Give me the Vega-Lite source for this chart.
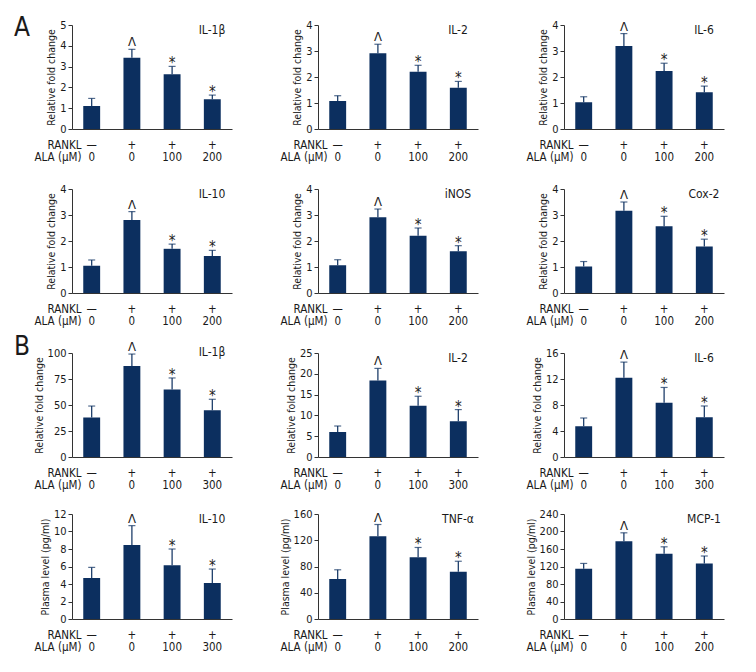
{
"$schema": "https://vega.github.io/schema/vega-lite/v6.json",
"padding": {"left": 13, "top": 15, "right": 5, "bottom": 5},
"config": {
  "font": "Liberation Sans Narrow, DejaVu Sans Condensed, sans-serif",
  "view": {"stroke": null},
  "axis": {"domainColor": "#333", "tickColor": "#333", "labelColor": "#1a1a1a", "titleColor": "#1a1a1a", "titleFontWeight": "normal", "labelFontSize": 11, "titleFontSize": 10.5, "grid": false},
  "axisX": {"labelAngle": 0, "ticks": false, "labelPadding": 10, "labelLineHeight": 12, "titleLineHeight": 12, "titleAlign": "right", "titleX": 9, "titleY": 10, "titleBaseline": "top", "labelFontSize": 11.5, "titleFontSize": 11.5, "labelBaseline": "top"},
  "axisY": {"tickSize": 4, "labelPadding": 2, "titlePadding": 3, "labelOverlap": false, "labelBound": false, "labelFlush": false},
  "bar": {"color": "#0c2f5f"},
  "text": {"color": "#222"},
  "title": {"fontWeight": "normal", "color": "#1a1a1a"}
},
"spacing": 7,
"vconcat": [
{
  "title": {"text": "A", "anchor": "start", "frame": "bounds", "fontSize": 26, "baseline": "top", "offset": -22, "dx": -20},
  "columns": 3,
  "bounds": "flush",
  "spacing": {"row": 60, "column": 86},
  "concat": [
  {"width": 160, "height": 104,
   "title": {"text": "IL-1β", "anchor": "end", "align": "center", "dx": -20, "baseline": "top", "offset": -18, "fontSize": 12, "frame": "group"},
   "data": {"values": [
     {"cond": "—|0", "value": 1.1, "upper": 1.47, "sig": ""},
     {"cond": "+|0", "value": 3.43, "upper": 3.83, "sig": "Λ"},
     {"cond": "+|100", "value": 2.63, "upper": 3.01, "sig": "*"},
     {"cond": "+|200", "value": 1.43, "upper": 1.63, "sig": "*"}]},
   "encoding": {"x": {"field": "cond", "type": "nominal", "sort": null, "scale": {"paddingInner": 0.58, "paddingOuter": 0.28}, "axis": {"title": ["RANKL", "ALA (μM)"], "labelExpr": "split(datum.label, '|')"}}},
   "layer": [
     {"mark": {"type": "bar"}, "encoding": {"y": {"field": "value", "type": "quantitative", "title": "Relative fold change", "scale": {"domain": [0, 5], "nice": false}, "axis": {"values": [0, 1, 2, 3, 4, 5]}}}},
     {"mark": {"type": "rule", "color": "#0c2f5f", "strokeWidth": 1.2}, "encoding": {"y": {"field": "value", "type": "quantitative", "title": "Relative fold change", "axis": {"values": [0, 1, 2, 3, 4, 5]}}, "y2": {"field": "upper"}}},
     {"mark": {"type": "tick", "color": "#0c2f5f", "thickness": 1.2, "size": 7}, "encoding": {"y": {"field": "upper", "type": "quantitative", "title": "Relative fold change", "axis": {"values": [0, 1, 2, 3, 4, 5]}}}},
     {"transform": [{"filter": "datum.sig == 'Λ'"}], "mark": {"type": "text", "baseline": "alphabetic", "dy": -3, "fontSize": 13}, "encoding": {"y": {"field": "upper", "type": "quantitative", "title": "Relative fold change", "axis": {"values": [0, 1, 2, 3, 4, 5]}}, "text": {"field": "sig"}}},
     {"transform": [{"filter": "datum.sig == '*'"}], "mark": {"type": "text", "baseline": "alphabetic", "dy": 2, "fontSize": 15}, "encoding": {"y": {"field": "upper", "type": "quantitative", "title": "Relative fold change", "axis": {"values": [0, 1, 2, 3, 4, 5]}}, "text": {"field": "sig"}}}
   ]},
  {"width": 160, "height": 104,
   "title": {"text": "IL-2", "anchor": "end", "align": "center", "dx": -20, "baseline": "top", "offset": -18, "fontSize": 12, "frame": "group"},
   "data": {"values": [
     {"cond": "—|0", "value": 1.08, "upper": 1.28, "sig": ""},
     {"cond": "+|0", "value": 2.91, "upper": 3.26, "sig": "Λ"},
     {"cond": "+|100", "value": 2.2, "upper": 2.45, "sig": "*"},
     {"cond": "+|200", "value": 1.59, "upper": 1.83, "sig": "*"}]},
   "encoding": {"x": {"field": "cond", "type": "nominal", "sort": null, "scale": {"paddingInner": 0.58, "paddingOuter": 0.28}, "axis": {"title": ["RANKL", "ALA (μM)"], "labelExpr": "split(datum.label, '|')"}}},
   "layer": [
     {"mark": {"type": "bar"}, "encoding": {"y": {"field": "value", "type": "quantitative", "title": "Relative fold change", "scale": {"domain": [0, 4], "nice": false}, "axis": {"values": [0, 1, 2, 3, 4]}}}},
     {"mark": {"type": "rule", "color": "#0c2f5f", "strokeWidth": 1.2}, "encoding": {"y": {"field": "value", "type": "quantitative", "title": "Relative fold change", "axis": {"values": [0, 1, 2, 3, 4]}}, "y2": {"field": "upper"}}},
     {"mark": {"type": "tick", "color": "#0c2f5f", "thickness": 1.2, "size": 7}, "encoding": {"y": {"field": "upper", "type": "quantitative", "title": "Relative fold change", "axis": {"values": [0, 1, 2, 3, 4]}}}},
     {"transform": [{"filter": "datum.sig == 'Λ'"}], "mark": {"type": "text", "baseline": "alphabetic", "dy": -3, "fontSize": 13}, "encoding": {"y": {"field": "upper", "type": "quantitative", "title": "Relative fold change", "axis": {"values": [0, 1, 2, 3, 4]}}, "text": {"field": "sig"}}},
     {"transform": [{"filter": "datum.sig == '*'"}], "mark": {"type": "text", "baseline": "alphabetic", "dy": 2, "fontSize": 15}, "encoding": {"y": {"field": "upper", "type": "quantitative", "title": "Relative fold change", "axis": {"values": [0, 1, 2, 3, 4]}}, "text": {"field": "sig"}}}
   ]},
  {"width": 160, "height": 104,
   "title": {"text": "IL-6", "anchor": "end", "align": "center", "dx": -20, "baseline": "top", "offset": -18, "fontSize": 12, "frame": "group"},
   "data": {"values": [
     {"cond": "—|0", "value": 1.03, "upper": 1.24, "sig": ""},
     {"cond": "+|0", "value": 3.19, "upper": 3.67, "sig": "Λ"},
     {"cond": "+|100", "value": 2.23, "upper": 2.53, "sig": "*"},
     {"cond": "+|200", "value": 1.41, "upper": 1.65, "sig": "*"}]},
   "encoding": {"x": {"field": "cond", "type": "nominal", "sort": null, "scale": {"paddingInner": 0.58, "paddingOuter": 0.28}, "axis": {"title": ["RANKL", "ALA (μM)"], "labelExpr": "split(datum.label, '|')"}}},
   "layer": [
     {"mark": {"type": "bar"}, "encoding": {"y": {"field": "value", "type": "quantitative", "title": "Relative fold change", "scale": {"domain": [0, 4], "nice": false}, "axis": {"values": [0, 1, 2, 3, 4]}}}},
     {"mark": {"type": "rule", "color": "#0c2f5f", "strokeWidth": 1.2}, "encoding": {"y": {"field": "value", "type": "quantitative", "title": "Relative fold change", "axis": {"values": [0, 1, 2, 3, 4]}}, "y2": {"field": "upper"}}},
     {"mark": {"type": "tick", "color": "#0c2f5f", "thickness": 1.2, "size": 7}, "encoding": {"y": {"field": "upper", "type": "quantitative", "title": "Relative fold change", "axis": {"values": [0, 1, 2, 3, 4]}}}},
     {"transform": [{"filter": "datum.sig == 'Λ'"}], "mark": {"type": "text", "baseline": "alphabetic", "dy": -3, "fontSize": 13}, "encoding": {"y": {"field": "upper", "type": "quantitative", "title": "Relative fold change", "axis": {"values": [0, 1, 2, 3, 4]}}, "text": {"field": "sig"}}},
     {"transform": [{"filter": "datum.sig == '*'"}], "mark": {"type": "text", "baseline": "alphabetic", "dy": 2, "fontSize": 15}, "encoding": {"y": {"field": "upper", "type": "quantitative", "title": "Relative fold change", "axis": {"values": [0, 1, 2, 3, 4]}}, "text": {"field": "sig"}}}
   ]},
  {"width": 160, "height": 104,
   "title": {"text": "IL-10", "anchor": "end", "align": "center", "dx": -20, "baseline": "top", "offset": -18, "fontSize": 12, "frame": "group"},
   "data": {"values": [
     {"cond": "—|0", "value": 1.05, "upper": 1.27, "sig": ""},
     {"cond": "+|0", "value": 2.81, "upper": 3.13, "sig": "Λ"},
     {"cond": "+|100", "value": 1.7, "upper": 1.88, "sig": "*"},
     {"cond": "+|200", "value": 1.42, "upper": 1.64, "sig": "*"}]},
   "encoding": {"x": {"field": "cond", "type": "nominal", "sort": null, "scale": {"paddingInner": 0.58, "paddingOuter": 0.28}, "axis": {"title": ["RANKL", "ALA (μM)"], "labelExpr": "split(datum.label, '|')"}}},
   "layer": [
     {"mark": {"type": "bar"}, "encoding": {"y": {"field": "value", "type": "quantitative", "title": "Relative fold change", "scale": {"domain": [0, 4], "nice": false}, "axis": {"values": [0, 1, 2, 3, 4]}}}},
     {"mark": {"type": "rule", "color": "#0c2f5f", "strokeWidth": 1.2}, "encoding": {"y": {"field": "value", "type": "quantitative", "title": "Relative fold change", "axis": {"values": [0, 1, 2, 3, 4]}}, "y2": {"field": "upper"}}},
     {"mark": {"type": "tick", "color": "#0c2f5f", "thickness": 1.2, "size": 7}, "encoding": {"y": {"field": "upper", "type": "quantitative", "title": "Relative fold change", "axis": {"values": [0, 1, 2, 3, 4]}}}},
     {"transform": [{"filter": "datum.sig == 'Λ'"}], "mark": {"type": "text", "baseline": "alphabetic", "dy": -3, "fontSize": 13}, "encoding": {"y": {"field": "upper", "type": "quantitative", "title": "Relative fold change", "axis": {"values": [0, 1, 2, 3, 4]}}, "text": {"field": "sig"}}},
     {"transform": [{"filter": "datum.sig == '*'"}], "mark": {"type": "text", "baseline": "alphabetic", "dy": 2, "fontSize": 15}, "encoding": {"y": {"field": "upper", "type": "quantitative", "title": "Relative fold change", "axis": {"values": [0, 1, 2, 3, 4]}}, "text": {"field": "sig"}}}
   ]},
  {"width": 160, "height": 104,
   "title": {"text": "iNOS", "anchor": "end", "align": "center", "dx": -20, "baseline": "top", "offset": -18, "fontSize": 12, "frame": "group"},
   "data": {"values": [
     {"cond": "—|0", "value": 1.07, "upper": 1.28, "sig": ""},
     {"cond": "+|0", "value": 2.91, "upper": 3.23, "sig": "Λ"},
     {"cond": "+|100", "value": 2.2, "upper": 2.5, "sig": "*"},
     {"cond": "+|200", "value": 1.61, "upper": 1.82, "sig": "*"}]},
   "encoding": {"x": {"field": "cond", "type": "nominal", "sort": null, "scale": {"paddingInner": 0.58, "paddingOuter": 0.28}, "axis": {"title": ["RANKL", "ALA (μM)"], "labelExpr": "split(datum.label, '|')"}}},
   "layer": [
     {"mark": {"type": "bar"}, "encoding": {"y": {"field": "value", "type": "quantitative", "title": "Relative fold change", "scale": {"domain": [0, 4], "nice": false}, "axis": {"values": [0, 1, 2, 3, 4]}}}},
     {"mark": {"type": "rule", "color": "#0c2f5f", "strokeWidth": 1.2}, "encoding": {"y": {"field": "value", "type": "quantitative", "title": "Relative fold change", "axis": {"values": [0, 1, 2, 3, 4]}}, "y2": {"field": "upper"}}},
     {"mark": {"type": "tick", "color": "#0c2f5f", "thickness": 1.2, "size": 7}, "encoding": {"y": {"field": "upper", "type": "quantitative", "title": "Relative fold change", "axis": {"values": [0, 1, 2, 3, 4]}}}},
     {"transform": [{"filter": "datum.sig == 'Λ'"}], "mark": {"type": "text", "baseline": "alphabetic", "dy": -3, "fontSize": 13}, "encoding": {"y": {"field": "upper", "type": "quantitative", "title": "Relative fold change", "axis": {"values": [0, 1, 2, 3, 4]}}, "text": {"field": "sig"}}},
     {"transform": [{"filter": "datum.sig == '*'"}], "mark": {"type": "text", "baseline": "alphabetic", "dy": 2, "fontSize": 15}, "encoding": {"y": {"field": "upper", "type": "quantitative", "title": "Relative fold change", "axis": {"values": [0, 1, 2, 3, 4]}}, "text": {"field": "sig"}}}
   ]},
  {"width": 160, "height": 104,
   "title": {"text": "Cox-2", "anchor": "end", "align": "center", "dx": -20, "baseline": "top", "offset": -18, "fontSize": 12, "frame": "group"},
   "data": {"values": [
     {"cond": "—|0", "value": 1.02, "upper": 1.21, "sig": ""},
     {"cond": "+|0", "value": 3.16, "upper": 3.5, "sig": "Λ"},
     {"cond": "+|100", "value": 2.57, "upper": 2.95, "sig": "*"},
     {"cond": "+|200", "value": 1.79, "upper": 2.07, "sig": "*"}]},
   "encoding": {"x": {"field": "cond", "type": "nominal", "sort": null, "scale": {"paddingInner": 0.58, "paddingOuter": 0.28}, "axis": {"title": ["RANKL", "ALA (μM)"], "labelExpr": "split(datum.label, '|')"}}},
   "layer": [
     {"mark": {"type": "bar"}, "encoding": {"y": {"field": "value", "type": "quantitative", "title": "Relative fold change", "scale": {"domain": [0, 4], "nice": false}, "axis": {"values": [0, 1, 2, 3, 4]}}}},
     {"mark": {"type": "rule", "color": "#0c2f5f", "strokeWidth": 1.2}, "encoding": {"y": {"field": "value", "type": "quantitative", "title": "Relative fold change", "axis": {"values": [0, 1, 2, 3, 4]}}, "y2": {"field": "upper"}}},
     {"mark": {"type": "tick", "color": "#0c2f5f", "thickness": 1.2, "size": 7}, "encoding": {"y": {"field": "upper", "type": "quantitative", "title": "Relative fold change", "axis": {"values": [0, 1, 2, 3, 4]}}}},
     {"transform": [{"filter": "datum.sig == 'Λ'"}], "mark": {"type": "text", "baseline": "alphabetic", "dy": -3, "fontSize": 13}, "encoding": {"y": {"field": "upper", "type": "quantitative", "title": "Relative fold change", "axis": {"values": [0, 1, 2, 3, 4]}}, "text": {"field": "sig"}}},
     {"transform": [{"filter": "datum.sig == '*'"}], "mark": {"type": "text", "baseline": "alphabetic", "dy": 2, "fontSize": 15}, "encoding": {"y": {"field": "upper", "type": "quantitative", "title": "Relative fold change", "axis": {"values": [0, 1, 2, 3, 4]}}, "text": {"field": "sig"}}}
   ]}
  ]
},
{
  "title": {"text": "B", "anchor": "start", "frame": "bounds", "fontSize": 26, "baseline": "top", "offset": -19, "dx": -20},
  "columns": 3,
  "bounds": "flush",
  "spacing": {"row": 57, "column": 86},
  "concat": [
  {"width": 160, "height": 104,
   "title": {"text": "IL-1β", "anchor": "end", "align": "center", "dx": -20, "baseline": "top", "offset": -18, "fontSize": 12, "frame": "group"},
   "data": {"values": [
     {"cond": "—|0", "value": 38, "upper": 49, "sig": ""},
     {"cond": "+|0", "value": 87.5, "upper": 99, "sig": "Λ"},
     {"cond": "+|100", "value": 65, "upper": 76, "sig": "*"},
     {"cond": "+|300", "value": 45, "upper": 55.5, "sig": "*"}]},
   "encoding": {"x": {"field": "cond", "type": "nominal", "sort": null, "scale": {"paddingInner": 0.58, "paddingOuter": 0.28}, "axis": {"title": ["RANKL", "ALA (μM)"], "labelExpr": "split(datum.label, '|')"}}},
   "layer": [
     {"mark": {"type": "bar"}, "encoding": {"y": {"field": "value", "type": "quantitative", "title": "Relative fold change", "scale": {"domain": [0, 100], "nice": false}, "axis": {"values": [0, 25, 50, 75, 100]}}}},
     {"mark": {"type": "rule", "color": "#0c2f5f", "strokeWidth": 1.2}, "encoding": {"y": {"field": "value", "type": "quantitative", "title": "Relative fold change", "axis": {"values": [0, 25, 50, 75, 100]}}, "y2": {"field": "upper"}}},
     {"mark": {"type": "tick", "color": "#0c2f5f", "thickness": 1.2, "size": 7}, "encoding": {"y": {"field": "upper", "type": "quantitative", "title": "Relative fold change", "axis": {"values": [0, 25, 50, 75, 100]}}}},
     {"transform": [{"filter": "datum.sig == 'Λ'"}], "mark": {"type": "text", "baseline": "alphabetic", "dy": -3, "fontSize": 13}, "encoding": {"y": {"field": "upper", "type": "quantitative", "title": "Relative fold change", "axis": {"values": [0, 25, 50, 75, 100]}}, "text": {"field": "sig"}}},
     {"transform": [{"filter": "datum.sig == '*'"}], "mark": {"type": "text", "baseline": "alphabetic", "dy": 2, "fontSize": 15}, "encoding": {"y": {"field": "upper", "type": "quantitative", "title": "Relative fold change", "axis": {"values": [0, 25, 50, 75, 100]}}, "text": {"field": "sig"}}}
   ]},
  {"width": 160, "height": 104,
   "title": {"text": "IL-2", "anchor": "end", "align": "center", "dx": -20, "baseline": "top", "offset": -18, "fontSize": 12, "frame": "group"},
   "data": {"values": [
     {"cond": "—|0", "value": 6.0, "upper": 7.45, "sig": ""},
     {"cond": "+|0", "value": 18.4, "upper": 21.3, "sig": "Λ"},
     {"cond": "+|100", "value": 12.3, "upper": 14.6, "sig": "*"},
     {"cond": "+|300", "value": 8.6, "upper": 11.4, "sig": "*"}]},
   "encoding": {"x": {"field": "cond", "type": "nominal", "sort": null, "scale": {"paddingInner": 0.58, "paddingOuter": 0.28}, "axis": {"title": ["RANKL", "ALA (μM)"], "labelExpr": "split(datum.label, '|')"}}},
   "layer": [
     {"mark": {"type": "bar"}, "encoding": {"y": {"field": "value", "type": "quantitative", "title": "Relative fold change", "scale": {"domain": [0, 25], "nice": false}, "axis": {"values": [0, 5, 10, 15, 20, 25]}}}},
     {"mark": {"type": "rule", "color": "#0c2f5f", "strokeWidth": 1.2}, "encoding": {"y": {"field": "value", "type": "quantitative", "title": "Relative fold change", "axis": {"values": [0, 5, 10, 15, 20, 25]}}, "y2": {"field": "upper"}}},
     {"mark": {"type": "tick", "color": "#0c2f5f", "thickness": 1.2, "size": 7}, "encoding": {"y": {"field": "upper", "type": "quantitative", "title": "Relative fold change", "axis": {"values": [0, 5, 10, 15, 20, 25]}}}},
     {"transform": [{"filter": "datum.sig == 'Λ'"}], "mark": {"type": "text", "baseline": "alphabetic", "dy": -3, "fontSize": 13}, "encoding": {"y": {"field": "upper", "type": "quantitative", "title": "Relative fold change", "axis": {"values": [0, 5, 10, 15, 20, 25]}}, "text": {"field": "sig"}}},
     {"transform": [{"filter": "datum.sig == '*'"}], "mark": {"type": "text", "baseline": "alphabetic", "dy": 2, "fontSize": 15}, "encoding": {"y": {"field": "upper", "type": "quantitative", "title": "Relative fold change", "axis": {"values": [0, 5, 10, 15, 20, 25]}}, "text": {"field": "sig"}}}
   ]},
  {"width": 160, "height": 104,
   "title": {"text": "IL-6", "anchor": "end", "align": "center", "dx": -20, "baseline": "top", "offset": -18, "fontSize": 12, "frame": "group"},
   "data": {"values": [
     {"cond": "—|0", "value": 4.75, "upper": 6.0, "sig": ""},
     {"cond": "+|0", "value": 12.2, "upper": 14.6, "sig": "Λ"},
     {"cond": "+|100", "value": 8.35, "upper": 10.7, "sig": "*"},
     {"cond": "+|300", "value": 6.1, "upper": 7.85, "sig": "*"}]},
   "encoding": {"x": {"field": "cond", "type": "nominal", "sort": null, "scale": {"paddingInner": 0.58, "paddingOuter": 0.28}, "axis": {"title": ["RANKL", "ALA (μM)"], "labelExpr": "split(datum.label, '|')"}}},
   "layer": [
     {"mark": {"type": "bar"}, "encoding": {"y": {"field": "value", "type": "quantitative", "title": "Relative fold change", "scale": {"domain": [0, 16], "nice": false}, "axis": {"values": [0, 4, 8, 12, 16]}}}},
     {"mark": {"type": "rule", "color": "#0c2f5f", "strokeWidth": 1.2}, "encoding": {"y": {"field": "value", "type": "quantitative", "title": "Relative fold change", "axis": {"values": [0, 4, 8, 12, 16]}}, "y2": {"field": "upper"}}},
     {"mark": {"type": "tick", "color": "#0c2f5f", "thickness": 1.2, "size": 7}, "encoding": {"y": {"field": "upper", "type": "quantitative", "title": "Relative fold change", "axis": {"values": [0, 4, 8, 12, 16]}}}},
     {"transform": [{"filter": "datum.sig == 'Λ'"}], "mark": {"type": "text", "baseline": "alphabetic", "dy": -3, "fontSize": 13}, "encoding": {"y": {"field": "upper", "type": "quantitative", "title": "Relative fold change", "axis": {"values": [0, 4, 8, 12, 16]}}, "text": {"field": "sig"}}},
     {"transform": [{"filter": "datum.sig == '*'"}], "mark": {"type": "text", "baseline": "alphabetic", "dy": 2, "fontSize": 15}, "encoding": {"y": {"field": "upper", "type": "quantitative", "title": "Relative fold change", "axis": {"values": [0, 4, 8, 12, 16]}}, "text": {"field": "sig"}}}
   ]},
  {"width": 160, "height": 105,
   "title": {"text": "IL-10", "anchor": "end", "align": "center", "dx": -20, "baseline": "top", "offset": -18, "fontSize": 12, "frame": "group"},
   "data": {"values": [
     {"cond": "—|0", "value": 4.7, "upper": 5.9, "sig": ""},
     {"cond": "+|0", "value": 8.46, "upper": 10.67, "sig": "Λ"},
     {"cond": "+|100", "value": 6.13, "upper": 8.0, "sig": "*"},
     {"cond": "+|300", "value": 4.11, "upper": 5.71, "sig": "*"}]},
   "encoding": {"x": {"field": "cond", "type": "nominal", "sort": null, "scale": {"paddingInner": 0.58, "paddingOuter": 0.28}, "axis": {"title": ["RANKL", "ALA (μM)"], "labelExpr": "split(datum.label, '|')"}}},
   "layer": [
     {"mark": {"type": "bar"}, "encoding": {"y": {"field": "value", "type": "quantitative", "title": "Plasma level (pg/ml)", "scale": {"domain": [0, 12], "nice": false}, "axis": {"values": [0, 2, 4, 6, 8, 10, 12]}}}},
     {"mark": {"type": "rule", "color": "#0c2f5f", "strokeWidth": 1.2}, "encoding": {"y": {"field": "value", "type": "quantitative", "title": "Plasma level (pg/ml)", "axis": {"values": [0, 2, 4, 6, 8, 10, 12]}}, "y2": {"field": "upper"}}},
     {"mark": {"type": "tick", "color": "#0c2f5f", "thickness": 1.2, "size": 7}, "encoding": {"y": {"field": "upper", "type": "quantitative", "title": "Plasma level (pg/ml)", "axis": {"values": [0, 2, 4, 6, 8, 10, 12]}}}},
     {"transform": [{"filter": "datum.sig == 'Λ'"}], "mark": {"type": "text", "baseline": "alphabetic", "dy": -3, "fontSize": 13}, "encoding": {"y": {"field": "upper", "type": "quantitative", "title": "Plasma level (pg/ml)", "axis": {"values": [0, 2, 4, 6, 8, 10, 12]}}, "text": {"field": "sig"}}},
     {"transform": [{"filter": "datum.sig == '*'"}], "mark": {"type": "text", "baseline": "alphabetic", "dy": 2, "fontSize": 15}, "encoding": {"y": {"field": "upper", "type": "quantitative", "title": "Plasma level (pg/ml)", "axis": {"values": [0, 2, 4, 6, 8, 10, 12]}}, "text": {"field": "sig"}}}
   ]},
  {"width": 160, "height": 105,
   "title": {"text": "TNF-α", "anchor": "end", "align": "center", "dx": -20, "baseline": "top", "offset": -18, "fontSize": 12, "frame": "group"},
   "data": {"values": [
     {"cond": "—|0", "value": 61, "upper": 75, "sig": ""},
     {"cond": "+|0", "value": 126, "upper": 144, "sig": "Λ"},
     {"cond": "+|100", "value": 94, "upper": 109, "sig": "*"},
     {"cond": "+|200", "value": 72, "upper": 88, "sig": "*"}]},
   "encoding": {"x": {"field": "cond", "type": "nominal", "sort": null, "scale": {"paddingInner": 0.58, "paddingOuter": 0.28}, "axis": {"title": ["RANKL", "ALA (μM)"], "labelExpr": "split(datum.label, '|')"}}},
   "layer": [
     {"mark": {"type": "bar"}, "encoding": {"y": {"field": "value", "type": "quantitative", "title": "Plasma level (pg/ml)", "scale": {"domain": [0, 160], "nice": false}, "axis": {"values": [0, 40, 80, 120, 160]}}}},
     {"mark": {"type": "rule", "color": "#0c2f5f", "strokeWidth": 1.2}, "encoding": {"y": {"field": "value", "type": "quantitative", "title": "Plasma level (pg/ml)", "axis": {"values": [0, 40, 80, 120, 160]}}, "y2": {"field": "upper"}}},
     {"mark": {"type": "tick", "color": "#0c2f5f", "thickness": 1.2, "size": 7}, "encoding": {"y": {"field": "upper", "type": "quantitative", "title": "Plasma level (pg/ml)", "axis": {"values": [0, 40, 80, 120, 160]}}}},
     {"transform": [{"filter": "datum.sig == 'Λ'"}], "mark": {"type": "text", "baseline": "alphabetic", "dy": -3, "fontSize": 13}, "encoding": {"y": {"field": "upper", "type": "quantitative", "title": "Plasma level (pg/ml)", "axis": {"values": [0, 40, 80, 120, 160]}}, "text": {"field": "sig"}}},
     {"transform": [{"filter": "datum.sig == '*'"}], "mark": {"type": "text", "baseline": "alphabetic", "dy": 2, "fontSize": 15}, "encoding": {"y": {"field": "upper", "type": "quantitative", "title": "Plasma level (pg/ml)", "axis": {"values": [0, 40, 80, 120, 160]}}, "text": {"field": "sig"}}}
   ]},
  {"width": 160, "height": 105,
   "title": {"text": "MCP-1", "anchor": "end", "align": "center", "dx": -20, "baseline": "top", "offset": -18, "fontSize": 12, "frame": "group"},
   "data": {"values": [
     {"cond": "—|0", "value": 115, "upper": 127, "sig": ""},
     {"cond": "+|0", "value": 178, "upper": 197, "sig": "Λ"},
     {"cond": "+|100", "value": 149, "upper": 165, "sig": "*"},
     {"cond": "+|200", "value": 127, "upper": 144, "sig": "*"}]},
   "encoding": {"x": {"field": "cond", "type": "nominal", "sort": null, "scale": {"paddingInner": 0.58, "paddingOuter": 0.28}, "axis": {"title": ["RANKL", "ALA (μM)"], "labelExpr": "split(datum.label, '|')"}}},
   "layer": [
     {"mark": {"type": "bar"}, "encoding": {"y": {"field": "value", "type": "quantitative", "title": "Plasma level (pg/ml)", "scale": {"domain": [0, 240], "nice": false}, "axis": {"values": [0, 40, 80, 120, 160, 200, 240]}}}},
     {"mark": {"type": "rule", "color": "#0c2f5f", "strokeWidth": 1.2}, "encoding": {"y": {"field": "value", "type": "quantitative", "title": "Plasma level (pg/ml)", "axis": {"values": [0, 40, 80, 120, 160, 200, 240]}}, "y2": {"field": "upper"}}},
     {"mark": {"type": "tick", "color": "#0c2f5f", "thickness": 1.2, "size": 7}, "encoding": {"y": {"field": "upper", "type": "quantitative", "title": "Plasma level (pg/ml)", "axis": {"values": [0, 40, 80, 120, 160, 200, 240]}}}},
     {"transform": [{"filter": "datum.sig == 'Λ'"}], "mark": {"type": "text", "baseline": "alphabetic", "dy": -3, "fontSize": 13}, "encoding": {"y": {"field": "upper", "type": "quantitative", "title": "Plasma level (pg/ml)", "axis": {"values": [0, 40, 80, 120, 160, 200, 240]}}, "text": {"field": "sig"}}},
     {"transform": [{"filter": "datum.sig == '*'"}], "mark": {"type": "text", "baseline": "alphabetic", "dy": 2, "fontSize": 15}, "encoding": {"y": {"field": "upper", "type": "quantitative", "title": "Plasma level (pg/ml)", "axis": {"values": [0, 40, 80, 120, 160, 200, 240]}}, "text": {"field": "sig"}}}
   ]}
  ]
}
]
}
